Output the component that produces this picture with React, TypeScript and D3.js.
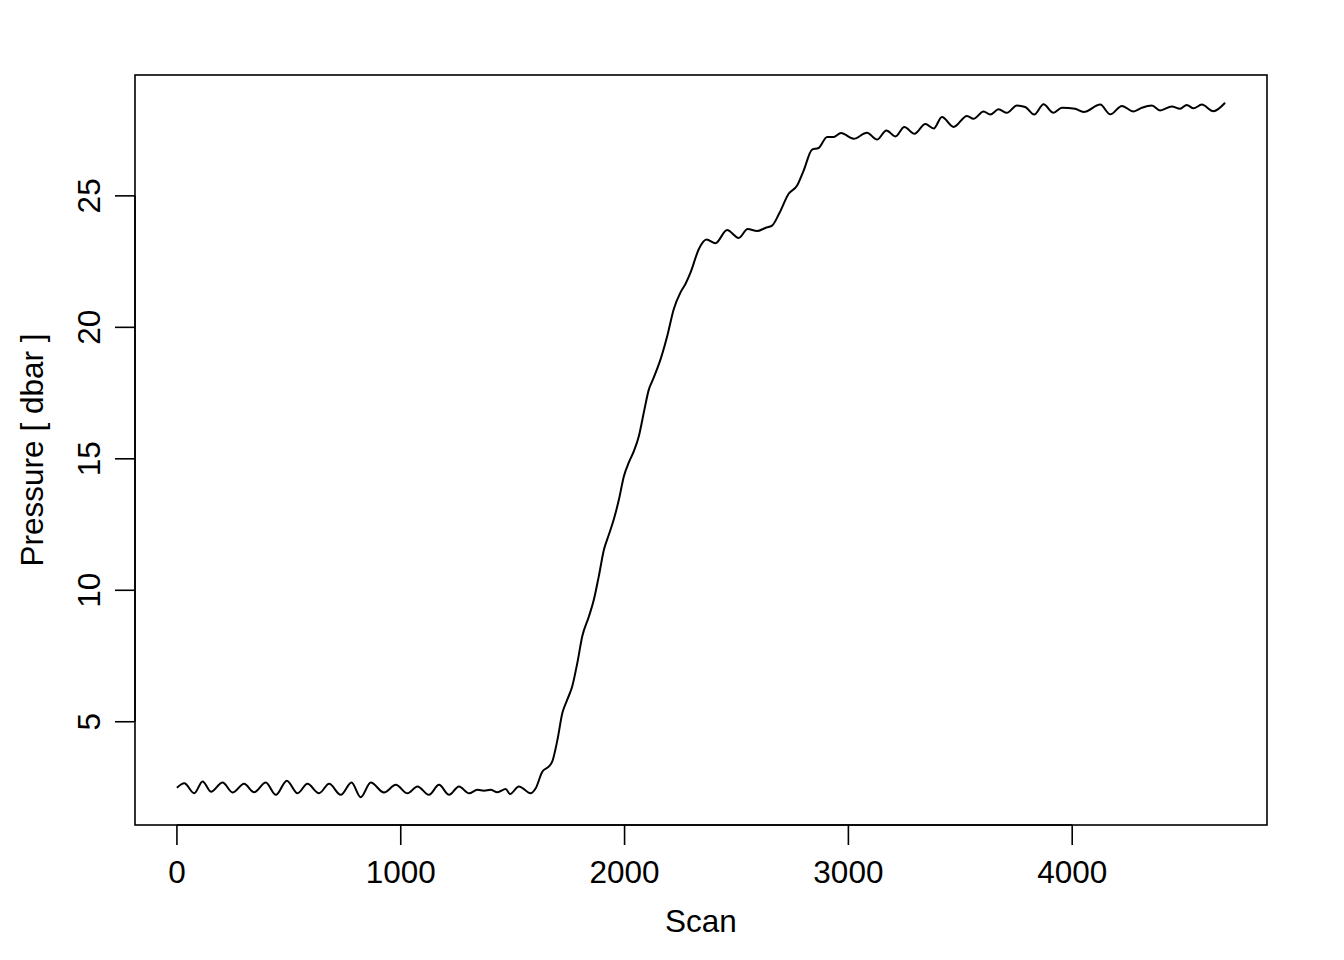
import * as d3 from "d3";

const WIDTH = 1344;
const HEIGHT = 960;
const MARGIN = { top: 75, right: 77, bottom: 135, left: 135 };

// scan number vs pressure
const scans = [
  0, 33, 77, 115, 152, 204, 249, 300, 345, 397, 442, 491, 539, 583, 635, 680, 732, 780,
  821, 866, 925, 978, 1030, 1075, 1126, 1171, 1216, 1260, 1305, 1342, 1372, 1402, 1432,
  1469, 1488, 1528, 1580, 1603, 1633, 1662, 1677, 1700, 1722, 1744, 1766, 1789, 1811,
  1841, 1863, 1885, 1908, 1930, 1952, 1975, 1997, 2019, 2042, 2064, 2086, 2109, 2124,
  2161, 2191, 2220, 2250, 2272, 2295, 2332, 2366, 2406, 2458, 2510, 2550, 2592, 2629,
  2659, 2692, 2733, 2771, 2800, 2838, 2867, 2905, 2934, 2967, 3024, 3083, 3128, 3170,
  3210, 3250, 3295, 3344, 3381, 3418, 3470, 3530, 3559, 3604, 3634, 3671, 3708, 3753,
  3790, 3830, 3872, 3916, 3954, 4013, 4051, 4125, 4170, 4222, 4274, 4311, 4356, 4393,
  4445, 4482, 4512, 4542, 4579, 4631, 4683,
];
const pressure = [
  2.49, 2.66, 2.28, 2.73, 2.34, 2.69, 2.31, 2.64, 2.32, 2.69, 2.22, 2.76, 2.28, 2.64, 2.28, 2.64, 2.22, 2.69,
  2.13, 2.69, 2.31, 2.6, 2.28, 2.54, 2.22, 2.6, 2.22, 2.54, 2.28, 2.41, 2.38, 2.41, 2.32,
  2.44, 2.25, 2.54, 2.28, 2.47, 3.11, 3.3, 3.49, 4.31, 5.33, 5.84, 6.34, 7.24, 8.25,
  9.01, 9.65, 10.54, 11.55, 12.12, 12.7, 13.46, 14.34, 14.86, 15.3, 15.87, 16.76, 17.65, 17.96,
  18.79, 19.68, 20.7, 21.33, 21.65, 22.09, 22.98, 23.34, 23.2, 23.7, 23.4, 23.74, 23.66, 23.78,
  23.87, 24.35, 25.08, 25.39, 25.96, 26.76, 26.82, 27.24, 27.24, 27.39, 27.17, 27.4, 27.14, 27.49,
  27.26, 27.62, 27.36, 27.73, 27.56, 28.0, 27.62, 28.04, 27.93, 28.21, 28.09, 28.29, 28.16, 28.44,
  28.38, 28.09, 28.48, 28.16, 28.35, 28.31, 28.19, 28.47, 28.1, 28.42, 28.21, 28.35, 28.44, 28.25,
  28.4, 28.31, 28.46, 28.33, 28.47, 28.22, 28.54,
];

const xTicks = [0, 1000, 2000, 3000, 4000];
const yTicks = [5, 10, 15, 20, 25];

const FONT = "'Liberation Sans', Arial, sans-serif";
const FS = 31.5;

// R-style 4% padding of the data range
const padded = (lo: number, hi: number): [number, number] => {
  const p = (hi - lo) * 0.04;
  return [lo - p, hi + p];
};

export default function App() {
  const data = scans.map((s, i) => ({ s, p: pressure[i] }));
  const x0 = MARGIN.left;
  const x1 = WIDTH - MARGIN.right;
  const y0 = HEIGHT - MARGIN.bottom;
  const y1 = MARGIN.top;

  const xScale = d3
    .scaleLinear()
    .domain(padded(d3.min(scans)!, d3.max(scans)!))
    .range([x0, x1]);
  const yScale = d3
    .scaleLinear()
    .domain(padded(d3.min(pressure)!, d3.max(pressure)!))
    .range([y0, y1]);

  const line = d3
    .line<{ s: number; p: number }>()
    .x((d) => xScale(d.s))
    .y((d) => yScale(d.p))
    .curve(d3.curveMonotoneX);

  return (
    <div style={{ position: "absolute", left: 0, top: 0 }}>
      <svg width={WIDTH} height={HEIGHT} style={{ display: "block", background: "#fff" }}>
        <rect
          x={x0}
          y={y1}
          width={x1 - x0}
          height={y0 - y1}
          fill="none"
          stroke="#000"
          strokeWidth={1.6}
        />
        <path d={line(data) ?? ""} fill="none" stroke="#000" strokeWidth={2} />

        {/* x axis */}
        <line
          x1={xScale(xTicks[0])}
          x2={xScale(xTicks[xTicks.length - 1])}
          y1={y0}
          y2={y0}
          stroke="#000"
          strokeWidth={1.6}
        />
        {xTicks.map((t) => (
          <g key={t} transform={`translate(${xScale(t)},0)`}>
            <line y1={y0} y2={y0 + 20} stroke="#000" strokeWidth={1.6} />
            <text
              y={883}
              textAnchor="middle"
              fontFamily={FONT}
              fontSize={FS}
              fill="#000"
            >
              {t}
            </text>
          </g>
        ))}
        <text
          x={(x0 + x1) / 2}
          y={932}
          textAnchor="middle"
          fontFamily={FONT}
          fontSize={FS}
          fill="#000"
        >
          Scan
        </text>

        {/* y axis */}
        <line
          x1={x0}
          x2={x0}
          y1={yScale(yTicks[0])}
          y2={yScale(yTicks[yTicks.length - 1])}
          stroke="#000"
          strokeWidth={1.6}
        />
        {yTicks.map((t) => (
          <g key={t}>
            <line
              x1={x0}
              x2={x0 - 20}
              y1={yScale(t)}
              y2={yScale(t)}
              stroke="#000"
              strokeWidth={1.6}
            />
            <text
              transform={`translate(100,${yScale(t)}) rotate(-90)`}
              textAnchor="middle"
              fontFamily={FONT}
              fontSize={FS}
              fill="#000"
            >
              {t}
            </text>
          </g>
        ))}
        <text
          transform={`translate(43,${(y0 + y1) / 2}) rotate(-90)`}
          textAnchor="middle"
          fontFamily={FONT}
          fontSize={FS}
          fill="#000"
        >
          Pressure [ dbar ]
        </text>
      </svg>
    </div>
  );
}
